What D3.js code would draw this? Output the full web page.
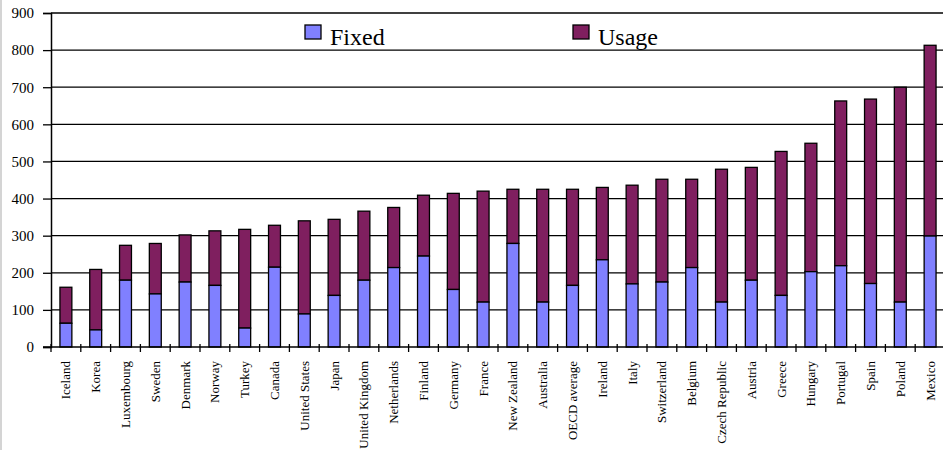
<!DOCTYPE html>
<html>
<head>
<meta charset="utf-8">
<script src="https://cdn.jsdelivr.net/npm/d3@7"></script>
<style>
body { margin: 0; background: #ffffff; }
svg text { font-family: "Times New Roman", Times, "Liberation Serif", Tinos, serif; fill: #000; }
</style>
</head>
<body>
<div id="chart"></div>
<script>
var countries = ["Iceland", "Korea", "Luxembourg", "Sweden", "Denmark", "Norway", "Turkey", "Canada",
    "United States", "Japan", "United Kingdom", "Netherlands", "Finland", "Germany", "France",
    "New Zealand", "Australia", "OECD average", "Ireland", "Italy", "Switzerland", "Belgium",
    "Czech Republic", "Austria", "Greece", "Hungary", "Portugal", "Spain", "Poland", "Mexico"];

// fixed part and total height of each bar (usage = total - fixed)
var fixedValues = [64, 46, 180, 143, 175, 166, 51, 215, 89, 139, 180, 214, 245, 155, 121,
    279, 121, 166, 235, 170, 175, 214, 121, 180, 139, 203, 219, 171, 121, 299];
var totalValues = [161, 209, 274, 279, 302, 313, 317, 328, 340, 344, 366, 376, 409, 414, 420,
    425, 425, 425, 430, 436, 452, 452, 479, 484, 527, 549, 663, 668, 700, 813];

var seriesNames = ["Fixed", "Usage"];
var seriesColors = ["#8080ff", "#7f1f5f"];
var yTicks = [0, 100, 200, 300, 400, 500, 600, 700, 800, 900];

var svgW = 943;
var svgH = 450;
var plotL = 51, plotR = 945, plotT = 13, plotB = 347;

function drawChart()
{
    var svg = d3.select("#chart")
        .append("svg")
        .attr("width", svgW)
        .attr("height", svgH);

    // thin grey frame on the left edge
    svg.append("line")
        .attr("x1", 1).attr("x2", 1)
        .attr("y1", 0).attr("y2", svgH)
        .attr("stroke", "#d4d4d4")
        .attr("stroke-width", 2);

    var x = d3.scaleBand()
        .domain(countries)
        .range([plotL, plotR])
        .paddingInner(0.6)
        .paddingOuter(0.3);
    var step = x.step();

    var y = d3.scaleLinear()
        .domain([0, 900])
        .range([plotB, plotT]);

    // gridlines + y axis
    var yAxis = d3.axisLeft(y)
        .tickValues(yTicks)
        .tickSize(8)
        .tickPadding(9)
        .tickFormat(d3.format("d"));
    var gy = svg.append("g")
        .attr("transform", "translate(" + plotL + ",0)")
        .call(yAxis)
        .attr("font-family", null)
        .attr("font-size", null);
    gy.select(".domain").attr("stroke", "#000").attr("stroke-width", 1.5);
    gy.selectAll(".tick line").attr("stroke", "#000").attr("stroke-width", 1.3);
    gy.selectAll(".tick text")
        .style("font-size", "15px")
        .attr("fill", "#000");

    svg.append("g").selectAll("line")
        .data(yTicks.filter(function(d){ return d > 0; }))
        .enter().append("line")
        .attr("x1", plotL).attr("x2", svgW)
        .attr("y1", function(d){ return y(d); })
        .attr("y2", function(d){ return y(d); })
        .attr("stroke", "#000")
        .attr("stroke-width", 1.3);

    // bars
    var bars = svg.append("g");
    bars.selectAll("rect.usage")
        .data(countries).enter().append("rect")
        .attr("class", "usage")
        .attr("x", function(d){ return x(d); })
        .attr("width", x.bandwidth())
        .attr("y", function(d, i){ return y(totalValues[i]); })
        .attr("height", function(d, i){ return y(fixedValues[i]) - y(totalValues[i]); })
        .attr("fill", seriesColors[1])
        .attr("stroke", "#000")
        .attr("stroke-width", 1.3);
    bars.selectAll("rect.fixed")
        .data(countries).enter().append("rect")
        .attr("class", "fixed")
        .attr("x", function(d){ return x(d); })
        .attr("width", x.bandwidth())
        .attr("y", function(d, i){ return y(fixedValues[i]); })
        .attr("height", function(d, i){ return y(0) - y(fixedValues[i]); })
        .attr("fill", seriesColors[0])
        .attr("stroke", "#000")
        .attr("stroke-width", 1.3);

    // x axis line and category ticks (between categories)
    svg.append("line")
        .attr("x1", plotL - 8).attr("x2", svgW)
        .attr("y1", plotB).attr("y2", plotB)
        .attr("stroke", "#000")
        .attr("stroke-width", 1.5);
    svg.append("g").selectAll("line")
        .data(countries)
        .enter().append("line")
        .attr("x1", function(d){ return x(d) - step * 0.3; })
        .attr("x2", function(d){ return x(d) - step * 0.3; })
        .attr("y1", plotB - 3)
        .attr("y2", plotB + 5)
        .attr("stroke", "#000")
        .attr("stroke-width", 1.3);

    svg.append("g").selectAll("text")
        .data(countries)
        .enter().append("text")
        .attr("transform", function(d){
            return "translate(" + (x(d) + x.bandwidth() / 2) + "," + 361 + ") rotate(-90)";
        })
        .attr("dy", "0.35em")
        .attr("text-anchor", "end")
        .style("font-size", "13px")
        .text(function(d){ return d; });

    // legend
    var legendX = [305, 573];
    var legend = svg.append("g");
    seriesNames.forEach(function(name, i){
        legend.append("rect")
            .attr("x", legendX[i]).attr("y", 25)
            .attr("width", 16).attr("height", 14)
            .attr("fill", seriesColors[i])
            .attr("stroke", "#000")
            .attr("stroke-width", 1.3);
        legend.append("text")
            .attr("x", legendX[i] + 25)
            .attr("y", 45)
            .style("font-size", "24px")
            .text(name);
    });
}

drawChart();
</script>
</body>
</html>
